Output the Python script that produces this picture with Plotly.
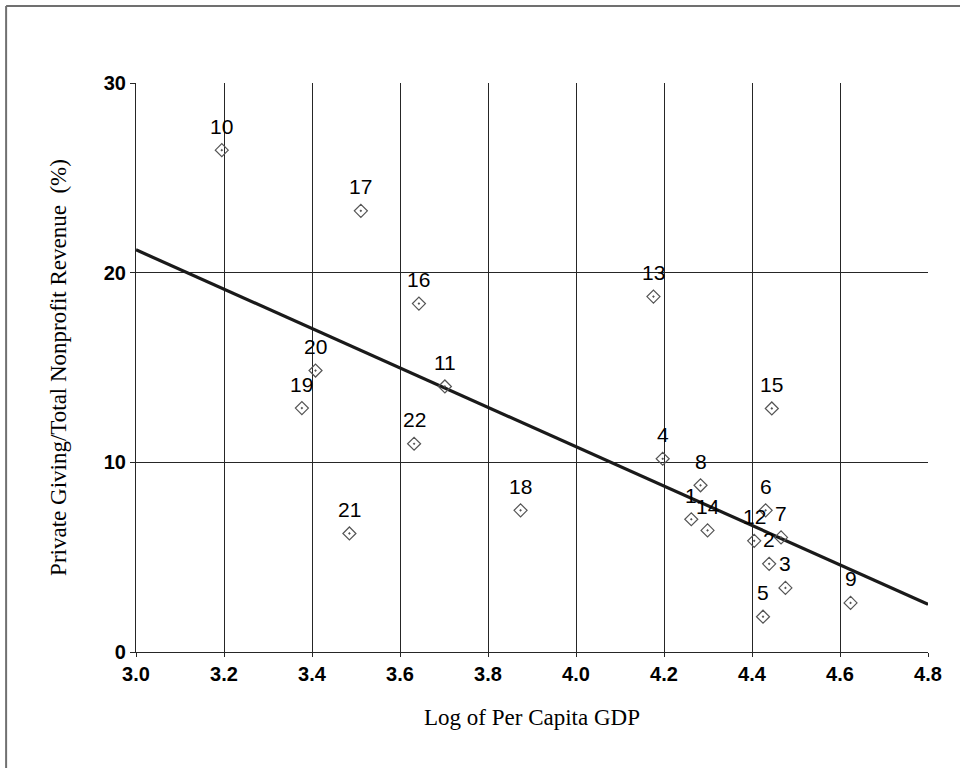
import numpy as np
import plotly.graph_objects as go

labels = ["1", "2", "3", "4", "5", "6", "7", "8", "9", "10", "11",
          "12", "13", "14", "15", "16", "17", "18", "19", "20", "21", "22"]
log_gdp = [4.262, 4.439, 4.476, 4.197, 4.425, 4.431, 4.466, 4.283, 4.624, 3.195, 3.702,
           4.405, 4.176, 4.299, 4.445, 3.643, 3.511, 3.874, 3.377, 3.408, 3.485, 3.632]
private_share = [7.00, 4.65, 3.38, 10.19, 1.86, 7.47, 6.04, 8.79, 2.59, 26.46, 14.00,
                 5.86, 18.74, 6.41, 12.84, 18.37, 23.26, 7.47, 12.86, 14.84, 6.25, 10.98]

x_ticks = [3.0, 3.2, 3.4, 3.6, 3.8, 4.0, 4.2, 4.4, 4.6, 4.8]
y_ticks = [0, 10, 20, 30]

# linear trend line fitted to the data
slope, intercept = np.polyfit(log_gdp, private_share, 1)
trend_x = [x_ticks[0], x_ticks[-1]]
trend_y = [intercept + slope * v for v in trend_x]

fig = go.Figure()
fig.add_trace(go.Scatter(x=trend_x, y=trend_y, mode="lines",
                         line=dict(color="#1a1a1a", width=3.2), hoverinfo="skip",
                         showlegend=False))
fig.add_trace(go.Scatter(x=log_gdp, y=private_share, mode="markers",
                         marker=dict(symbol="diamond-open-dot", size=10,
                                     color="#555555", line=dict(width=1.2)),
                         showlegend=False))

for lab, xv, yv in zip(labels, log_gdp, private_share):
    fig.add_annotation(x=xv, y=yv, text=lab, showarrow=False, yshift=24,
                       font=dict(family="Liberation Sans, Arial", size=21, color="#000"))

# chart-area border (left and top edges visible)
fig.add_shape(type="line", xref="paper", yref="paper",
              x0=-0.164, x1=-0.164, y0=1.1353, y1=-0.21,
              line=dict(color="#707070", width=2))
fig.add_shape(type="line", xref="paper", yref="paper",
              x0=-0.164, x1=1.05, y0=1.1353, y1=1.1353,
              line=dict(color="#707070", width=2))

tick_font = dict(family="Liberation Sans, Arial", size=20, color="#000", weight="bold")
title_font = dict(family="Liberation Serif, Times New Roman", size=23, color="#000")

fig.update_layout(
    width=960, height=768,
    margin=dict(l=136, r=32, t=83, b=116),
    paper_bgcolor="white", plot_bgcolor="white",
    font=dict(family="Liberation Sans, Arial", color="#000"),
)
fig.update_xaxes(range=[3.0, 4.8], tickvals=x_ticks,
                 ticktext=[f"{v:.1f}" for v in x_ticks],
                 showgrid=True, gridcolor="#262626", gridwidth=1.2,
                 showline=True, linecolor="#262626", linewidth=1.2,
                 ticks="outside", ticklen=4, tickcolor="#262626",
                 tickfont=tick_font, zeroline=False,
                 title=dict(text="Log of Per Capita GDP", standoff=24, font=title_font))
fig.update_yaxes(range=[0, 30], tickvals=y_ticks,
                 showgrid=True, gridcolor="#262626", gridwidth=1.2,
                 showline=True, linecolor="#262626", linewidth=1.2,
                 ticks="outside", ticklen=5, tickcolor="#262626",
                 tickfont=tick_font, zeroline=False,
                 title=dict(text="Private Giving/Total Nonprofit Revenue  (%)", standoff=30,
                            font=title_font))

fig.write_html("out.html", config={"displayModeBar": False},
               post_script="document.body.style.margin='0';")
